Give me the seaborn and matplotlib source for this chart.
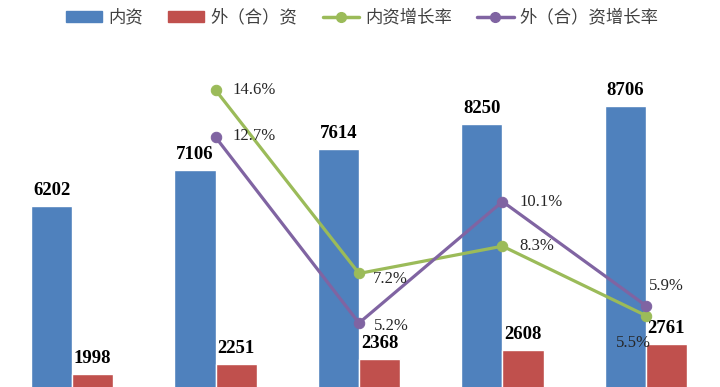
import pandas as pd
import seaborn as sns
from matplotlib import pyplot as plt
from matplotlib.patches import Patch
from matplotlib.lines import Line2D

# categories are cut off in the source picture, years are a guess
years = ["2012", "2013", "2014", "2015", "2016"]
domestic = [6202, 7106, 7614, 8250, 8706]
foreign = [1998, 2251, 2368, 2608, 2761]
domestic_growth = [14.6, 7.2, 8.3, 5.5]
foreign_growth = [12.7, 5.2, 10.1, 5.9]

bar_names = ["内资", "外（合）资"]
line_names = ["内资增长率", "外（合）资增长率"]
bar_colors = ["#4F81BD", "#C0504D"]
line_colors = ["#9BBB59", "#8064A2"]

sns.set_theme(style="white")
plt.rcParams['font.family'] = ['Noto Sans CJK SC', 'DejaVu Sans']
num_font = "Liberation Serif"

bars = pd.DataFrame({
    "year": years * 2,
    "value": domestic + foreign,
    "type": [bar_names[0]] * len(years) + [bar_names[1]] * len(years),
})
lines = pd.DataFrame({
    "year": years[1:] * 2,
    "rate": domestic_growth + foreign_growth,
    "type": [line_names[0]] * len(domestic_growth) + [line_names[1]] * len(foreign_growth),
})

fig = plt.figure(figsize=(7.2, 3.87), dpi=100)
ax = fig.add_axes([0, 0, 1, 1])
sns.barplot(data=bars, x="year", y="value", hue="type", palette=bar_colors,
            width=0.572, saturation=1, legend=False, ax=ax)
for cont in ax.containers:
    ax.bar_label(cont, fmt="%d", padding=5, fontsize=13.5, fontweight="bold",
                 family=num_font, color="black")

ax2 = ax.twinx()
sns.lineplot(data=lines, x="year", y="rate", hue="type", palette=line_colors,
             marker="o", markersize=7.5, linewidth=2.3, legend=False, ax=ax2)
for ln in ax2.lines:
    ln.set_markeredgecolor(ln.get_color())

# label offsets in points, (dx, dy)
offsets = {
    line_names[0]: [(12, 0), (10, -4), (12, 0), (-9, -20)],
    line_names[1]: [(12, 1), (11, -2), (12, 0), (2, 14)],
}
aligns = {
    line_names[0]: ["left", "left", "left", "center"],
    line_names[1]: ["left", "left", "left", "left"],
}
for name, rates in zip(line_names, [domestic_growth, foreign_growth]):
    for i, r in enumerate(rates):
        ax2.annotate(f"{r}%", (i + 1, r), xytext=offsets[name][i], textcoords="offset points",
                     ha=aligns[name][i], va="center", fontsize=12, family=num_font, color="#262626")

ax.set_xlim(-0.502, 4.516)
ax.set_ylim(1675, 11350)
ax2.set_ylim(2.62, 18.23)
for a in (ax, ax2):
    a.set_xlabel("")
    a.set_ylabel("")
    a.set_xticks([])
    a.set_yticks([])
    for s in a.spines.values():
        s.set_visible(False)

handles = [Patch(color=c) for c in bar_colors] + \
          [Line2D([], [], color=c, linewidth=2.5, marker="o", markersize=7) for c in line_colors]
leg = ax2.legend(handles, bar_names + line_names, ncol=4, loc="center", bbox_to_anchor=(0.503, 0.954),
                 frameon=False, fontsize=12.5, handlelength=2.1, handleheight=0.58,
                 handletextpad=0.35, columnspacing=1.45)
for t in leg.get_texts():
    t.set_color("#404040")

fig.savefig("out.png", dpi=100)
